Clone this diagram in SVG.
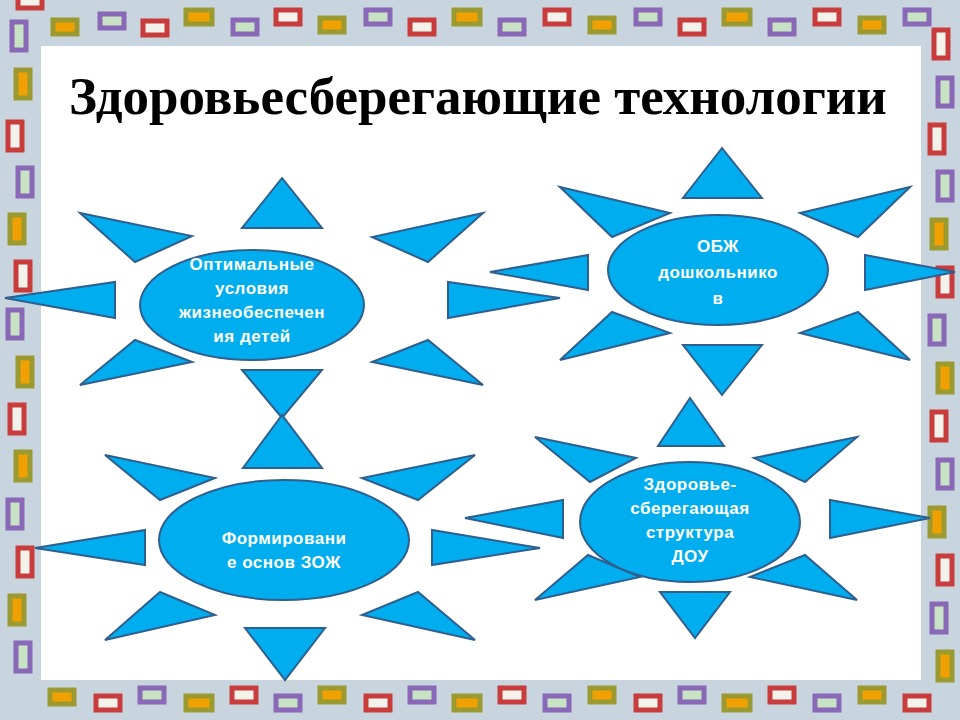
<svg xmlns="http://www.w3.org/2000/svg" width="960" height="720" viewBox="0 0 960 720">
<defs>
<style>
.r{fill:#00aeef;stroke:#2f5f8f;stroke-width:2}
.t{fill:#fff;font-family:"Liberation Sans",Arial,sans-serif;font-weight:bold;font-size:17px;text-anchor:middle;letter-spacing:0.5px}
.a{fill:#f0a000;stroke:#9a9a30;stroke-width:5}
.b{fill:#c8e2c4;stroke:#8a68b8;stroke-width:5}
.c{fill:#f2f2ea;stroke:#c83c3c;stroke-width:5}
</style>
</defs>
<rect width="960" height="720" fill="#c9d5de"/>
<g id="border">
<rect class="c" x="18" y="-6" width="24" height="14"/>
<rect class="a" x="53" y="20" width="24" height="14"/><rect class="b" x="100" y="14" width="24" height="14"/><rect class="c" x="143" y="21" width="24" height="14"/><rect class="a" x="186" y="10" width="26" height="14"/><rect class="b" x="233" y="20" width="24" height="14"/><rect class="c" x="276" y="10" width="24" height="14"/><rect class="a" x="320" y="18" width="24" height="14"/><rect class="b" x="366" y="10" width="24" height="14"/><rect class="c" x="410" y="20" width="24" height="14"/><rect class="a" x="454" y="10" width="26" height="14"/><rect class="b" x="500" y="20" width="24" height="14"/><rect class="c" x="545" y="10" width="24" height="14"/><rect class="a" x="590" y="18" width="24" height="14"/><rect class="b" x="636" y="10" width="24" height="14"/><rect class="c" x="680" y="20" width="24" height="14"/><rect class="a" x="724" y="10" width="26" height="14"/><rect class="b" x="770" y="20" width="24" height="14"/><rect class="c" x="815" y="10" width="24" height="14"/><rect class="a" x="860" y="18" width="24" height="14"/><rect class="b" x="905" y="10" width="24" height="14"/>
<rect class="b" x="12" y="22" width="14" height="28"/><rect class="a" x="16" y="70" width="14" height="28"/><rect class="c" x="8" y="122" width="14" height="28"/><rect class="b" x="18" y="168" width="14" height="28"/><rect class="a" x="10" y="215" width="14" height="28"/><rect class="c" x="16" y="262" width="14" height="28"/><rect class="b" x="8" y="310" width="14" height="28"/><rect class="a" x="18" y="358" width="14" height="28"/><rect class="c" x="10" y="405" width="14" height="28"/><rect class="a" x="16" y="452" width="14" height="28"/><rect class="b" x="8" y="500" width="14" height="28"/><rect class="c" x="18" y="548" width="14" height="28"/><rect class="a" x="10" y="596" width="14" height="28"/><rect class="b" x="16" y="643" width="14" height="28"/>
<rect class="c" x="934" y="30" width="14" height="28"/><rect class="b" x="938" y="78" width="14" height="28"/><rect class="c" x="930" y="125" width="14" height="28"/><rect class="b" x="938" y="172" width="14" height="28"/><rect class="a" x="932" y="220" width="14" height="28"/><rect class="c" x="938" y="268" width="14" height="28"/><rect class="b" x="930" y="316" width="14" height="28"/><rect class="a" x="938" y="364" width="14" height="28"/><rect class="c" x="932" y="412" width="14" height="28"/><rect class="b" x="938" y="460" width="14" height="28"/><rect class="a" x="930" y="508" width="14" height="28"/><rect class="c" x="938" y="556" width="14" height="28"/><rect class="b" x="932" y="604" width="14" height="28"/><rect class="a" x="938" y="652" width="14" height="28"/>
<rect class="a" x="50" y="690" width="24" height="14"/><rect class="c" x="96" y="696" width="24" height="14"/><rect class="b" x="140" y="688" width="24" height="14"/><rect class="a" x="186" y="696" width="26" height="14"/><rect class="c" x="232" y="688" width="24" height="14"/><rect class="b" x="276" y="696" width="24" height="14"/><rect class="a" x="320" y="688" width="24" height="14"/><rect class="c" x="366" y="696" width="24" height="14"/><rect class="b" x="410" y="688" width="24" height="14"/><rect class="a" x="454" y="696" width="26" height="14"/><rect class="c" x="500" y="688" width="24" height="14"/><rect class="b" x="545" y="696" width="24" height="14"/><rect class="a" x="590" y="688" width="24" height="14"/><rect class="c" x="636" y="696" width="24" height="14"/><rect class="b" x="680" y="688" width="24" height="14"/><rect class="a" x="724" y="696" width="26" height="14"/><rect class="c" x="770" y="688" width="24" height="14"/><rect class="b" x="815" y="696" width="24" height="14"/><rect class="a" x="860" y="688" width="24" height="14"/><rect class="c" x="905" y="696" width="24" height="14"/>
</g>
<rect x="41" y="46" width="880" height="634" fill="#fff"/>
<text x="478" y="114" font-family="Liberation Serif,Times New Roman,serif" font-weight="bold" font-size="53" text-anchor="middle">Здоровьесберегающие технологии</text>
<g id="sun1">
<polygon class="r" points="282,178 242,228 322,228"/><polygon class="r" points="242,370 322,370 282,418"/>
<polygon class="r" points="80,213 192,236 135,262"/><polygon class="r" points="483,213 372,237 428,262"/>
<polygon class="r" points="5,298 115,282 115,318"/><polygon class="r" points="448,282 448,318 560,298"/>
<polygon class="r" points="80,385 135,340 192,362"/><polygon class="r" points="483,385 428,340 372,362"/>
<ellipse class="r" cx="252" cy="305" rx="112" ry="55"/>
<text class="t" x="252" y="270">Оптимальные</text><text class="t" x="252" y="294">условия</text><text class="t" x="252" y="318">жизнеобеспечен</text><text class="t" x="252" y="342">ия детей</text>
</g>
<g id="sun2">
<polygon class="r" points="722,148 683,198 762,198"/><polygon class="r" points="683,345 762,345 722,395"/>
<polygon class="r" points="560,187 670,213 612,237"/><polygon class="r" points="910,187 800,213 858,237"/>
<polygon class="r" points="490,272 588,255 588,290"/><polygon class="r" points="865,255 865,290 955,272"/>
<polygon class="r" points="560,360 612,312 670,333"/><polygon class="r" points="910,360 858,312 800,333"/>
<ellipse class="r" cx="718" cy="270" rx="110" ry="55"/>
<text class="t" x="718" y="252">ОБЖ</text><text class="t" x="718" y="278">дошкольнико</text><text class="t" x="718" y="304">в</text>
</g>
<g id="sun3">
<polygon class="r" points="282,415 243,468 322,468"/><polygon class="r" points="245,628 325,628 285,680"/>
<polygon class="r" points="105,455 215,478 160,500"/><polygon class="r" points="475,455 362,478 418,500"/>
<polygon class="r" points="35,548 145,530 145,565"/><polygon class="r" points="432,530 432,565 540,548"/>
<polygon class="r" points="105,640 160,592 215,615"/><polygon class="r" points="475,640 418,592 362,615"/>
<ellipse class="r" cx="284" cy="540" rx="125" ry="60"/>
<text class="t" x="284" y="544">Формировани</text><text class="t" x="284" y="568">е основ ЗОЖ</text>
</g>
<g id="sun4">
<polygon class="r" points="690,398 658,446 724,446"/><polygon class="r" points="660,592 730,592 695,638"/>
<polygon class="r" points="535,437 636,458 590,482"/><polygon class="r" points="857,437 754,458 805,482"/>
<polygon class="r" points="465,518 563,500 563,538"/><polygon class="r" points="830,500 830,538 930,518"/>
<polygon class="r" points="535,600 588,555 640,577"/><polygon class="r" points="857,600 805,555 750,577"/>
<ellipse class="r" cx="690" cy="522" rx="110" ry="60"/>
<text class="t" x="690" y="490">Здоровье-</text><text class="t" x="690" y="514">сберегающая</text><text class="t" x="690" y="538">структура</text><text class="t" x="690" y="562">ДОУ</text>
</g>
<g id="connectors"/>
</svg>
